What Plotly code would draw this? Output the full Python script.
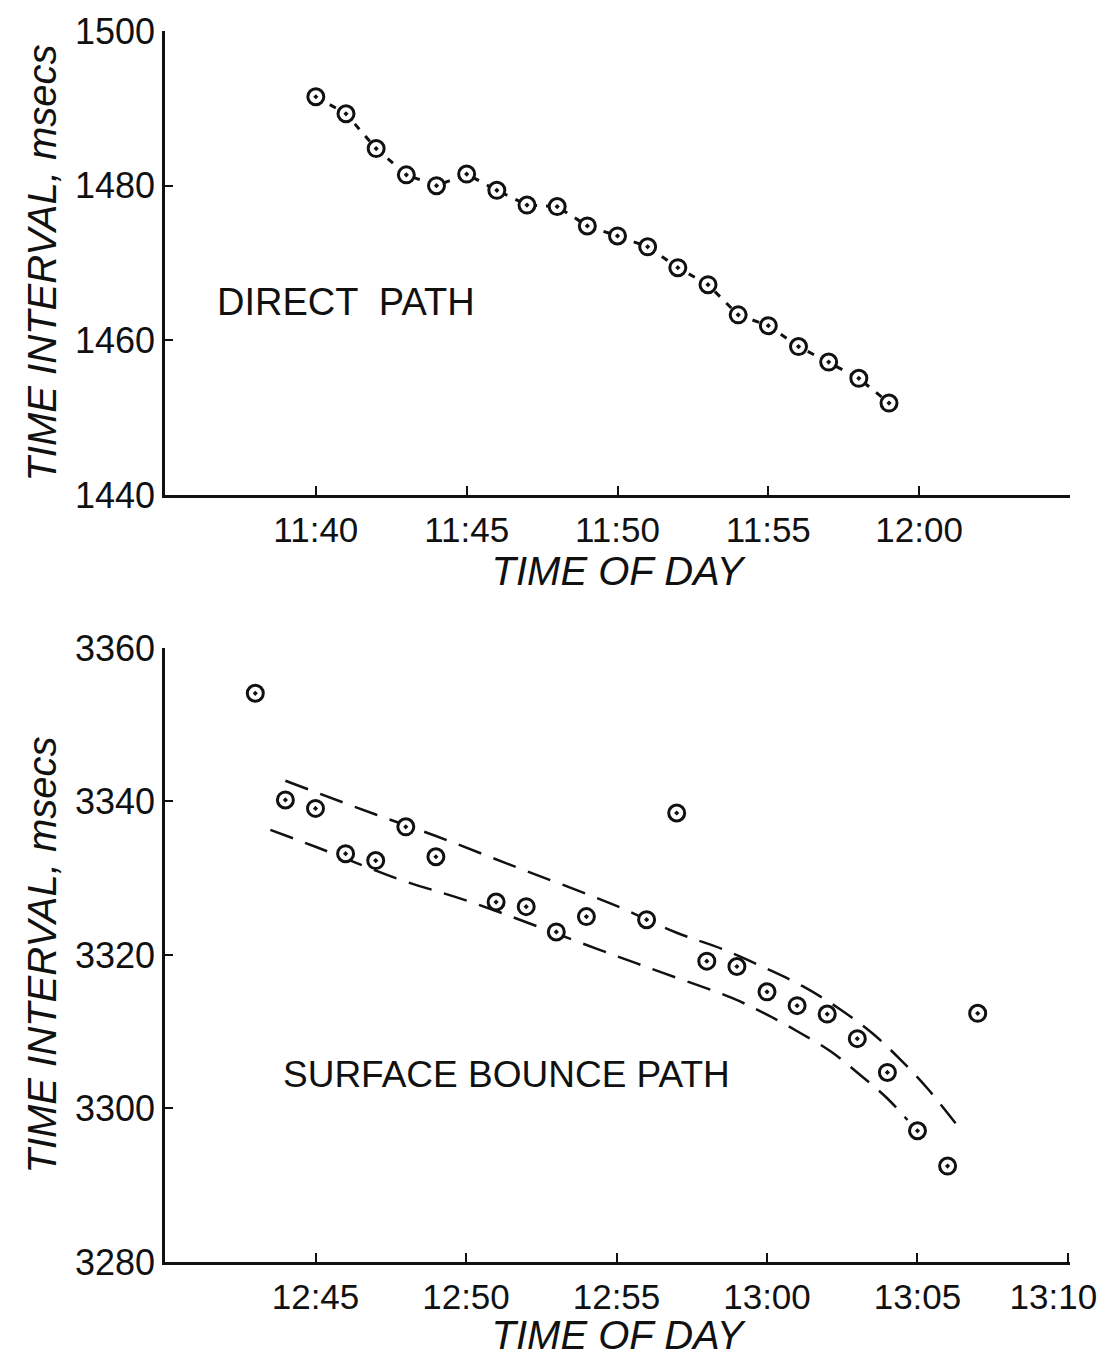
import plotly.graph_objects as go
from plotly.subplots import make_subplots

DAY = "2000-01-01 "

# ---- Direct path data ----
direct_times = ["11:40", "11:41", "11:42", "11:43", "11:44", "11:45", "11:46", "11:47",
                "11:48", "11:49", "11:50", "11:51", "11:52", "11:53", "11:54", "11:55",
                "11:56", "11:57", "11:58", "11:59"]
direct_ms = [1491.5, 1489.3, 1484.8, 1481.4, 1480.0, 1481.5, 1479.4, 1477.5,
             1477.3, 1474.8, 1473.5, 1472.1, 1469.4, 1467.2, 1463.3, 1461.9,
             1459.2, 1457.2, 1455.1, 1451.9]

# ---- Surface bounce path data ----
bounce_times = ["12:43", "12:44", "12:45", "12:46", "12:47", "12:48", "12:49", "12:51",
                "12:52", "12:53", "12:54", "12:56", "12:57", "12:58", "12:59", "13:00",
                "13:01", "13:02", "13:03", "13:04", "13:05", "13:06", "13:07"]
bounce_ms = [3354.1, 3340.2, 3339.1, 3333.2, 3332.3, 3336.7, 3332.8, 3326.9,
             3326.3, 3323.0, 3325.0, 3324.6, 3338.5, 3319.2, 3318.5, 3315.2,
             3313.4, 3312.3, 3309.1, 3304.7, 3297.1, 3292.5, 3312.4]

# envelope curves (dashed)
upper_times = ["12:44:00", "12:47:00", "12:49:00", "12:51:30", "12:55:00", "12:57:00",
               "12:58:30", "13:00:00", "13:01:12", "13:02:24", "13:03:30", "13:04:24",
               "13:05:20", "13:06:18"]
upper_ms = [3342.7, 3338.3, 3335.5, 3331.7, 3326.4, 3322.9,
            3320.8, 3318.2, 3315.9, 3313.0, 3309.8, 3306.5,
            3302.6, 3297.9]
lower_times = ["12:43:30", "12:45:00", "12:47:45", "12:50:10", "12:54:25", "12:56:27",
               "12:58:50", "12:59:55", "13:01:02", "13:02:08", "13:03:07", "13:04:00",
               "13:04:40"]
lower_ms = [3336.3, 3334.1, 3329.9, 3326.9, 3320.7, 3317.8,
            3314.4, 3312.4, 3310.0, 3307.4, 3304.3, 3301.3,
            3298.5]

top_yticks = [1440, 1460, 1480, 1500]
bot_yticks = [3280, 3300, 3320, 3340, 3360]
top_xticks = ["11:40", "11:45", "11:50", "11:55", "12:00"]
bot_xticks = ["12:45", "12:50", "12:55", "13:00", "13:05", "13:10"]
NBSP = "\u00a0"
# last label padded so it is not cut at the page's right edge
bot_xtick_labels = ["12:45", "12:50", "12:55", "13:00", "13:05", "13:10" + NBSP * 3]


def d(ts):
    return [DAY + t for t in ts]


INK = "#111111"
FONT = "Liberation Sans"

fig = make_subplots(rows=2, cols=1, vertical_spacing=0.0)

marker = dict(symbol="circle-dot", size=16, color="white",
              line=dict(color=INK, width=3))

fig.add_trace(go.Scatter(x=d(direct_times), y=direct_ms, mode="lines+markers",
                         line=dict(color=INK, width=3, dash="7px,9px"),
                         marker=marker, showlegend=False), row=1, col=1)

fig.add_trace(go.Scatter(x=d(upper_times), y=upper_ms, mode="lines",
                         line=dict(color=INK, width=2.5, dash="24px,13px", shape="spline",
                                   smoothing=1.0),
                         showlegend=False), row=2, col=1)
fig.add_trace(go.Scatter(x=d(lower_times), y=lower_ms, mode="lines",
                         line=dict(color=INK, width=2.5, dash="24px,13px", shape="spline",
                                   smoothing=1.0),
                         showlegend=False), row=2, col=1)
fig.add_trace(go.Scatter(x=d(bounce_times), y=bounce_ms, mode="markers",
                         marker=marker, showlegend=False), row=2, col=1)

ytickfont = dict(family=FONT, size=36, color=INK)
xtickfont = dict(family=FONT, size=35, color=INK)
titlefont = dict(family=FONT, size=40, color=INK, style="italic")

common_x = dict(type="date", tickformat="%H:%M", ticks="inside", ticklen=9,
                tickwidth=2, tickcolor=INK, showline=True, linecolor=INK,
                linewidth=2.5, showgrid=False, zeroline=False, tickfont=xtickfont,
                ticklabelstandoff=2, automargin=False, ticklabeloverflow="allow")
common_y = dict(ticks="inside", ticklen=8, tickwidth=2, tickcolor=INK,
                showline=True, linecolor=INK, linewidth=2.5, showgrid=False,
                zeroline=False, tickfont=ytickfont, ticklabelstandoff=0, automargin=False)

fig.update_xaxes(range=[DAY + "11:35", DAY + "12:05"], tickvals=d(top_xticks),
                 title=dict(text="TIME OF DAY", font=titlefont, standoff=0),
                 domain=[0, 1], **common_x, row=1, col=1)
fig.update_xaxes(range=[DAY + "12:40", DAY + "13:10:04"], tickvals=d(bot_xticks),
                 ticktext=bot_xtick_labels,
                 title=dict(text="TIME OF DAY", font=titlefont, standoff=0),
                 domain=[0, 1], **common_x, row=2, col=1)
fig.update_yaxes(range=[1440, 1500], tickvals=top_yticks, domain=[0.623, 1.0],
                 title=dict(text="TIME INTERVAL, msecs", font=titlefont, standoff=6),
                 **common_y, row=1, col=1)
fig.update_yaxes(range=[3280, 3360], tickvals=bot_yticks, domain=[0.0, 0.4988],
                 title=dict(text="TIME INTERVAL, msecs", font=titlefont, standoff=6),
                 **common_y, row=2, col=1)

fig.add_annotation(x=DAY + "11:36:40", y=1465.0, xref="x", yref="y", text="DIRECT  PATH",
                   showarrow=False, xanchor="left", yanchor="middle",
                   font=dict(family=FONT, size=38, color=INK))
fig.add_annotation(x=DAY + "12:43:52", y=3304.4, xref="x2", yref="y2",
                   text="SURFACE BOUNCE PATH", showarrow=False, xanchor="left",
                   yanchor="middle", font=dict(family=FONT, size=37, color=INK))

fig.update_layout(width=1098, height=1349, plot_bgcolor="white", paper_bgcolor="white",
                  margin=dict(l=157, r=36, t=23, b=95))

fig.write_html("out.html")
